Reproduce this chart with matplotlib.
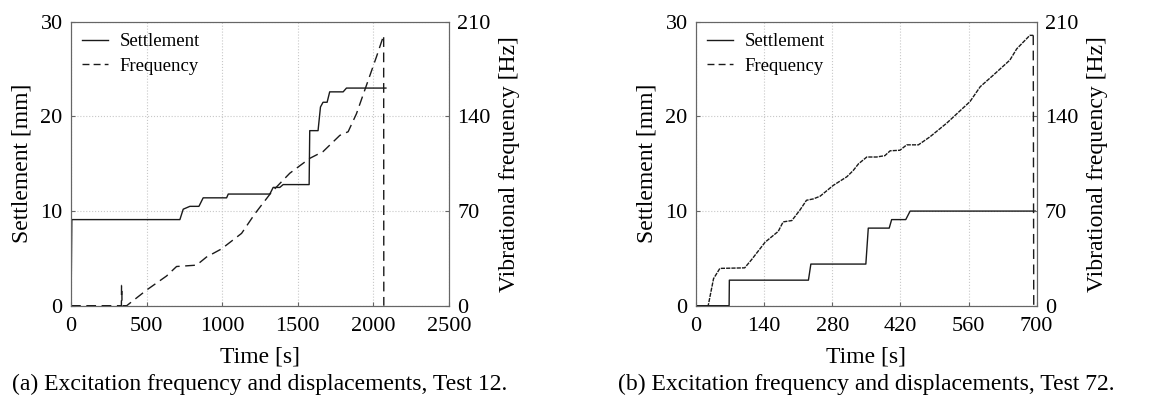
import matplotlib.pyplot as plt
from matplotlib.lines import Line2D

plt.rcParams["font.family"] = ["Liberation Serif", "DejaVu Serif"]
plt.rcParams["font.size"] = 14

# ---- Test 12 (panel a) ----
a_set_t = [0, 5, 720, 742, 786, 846, 874, 1029, 1040, 1315, 1337, 1381, 1403,
           1575, 1579, 1634, 1650, 1667, 1694, 1711, 1800, 1822, 2083]
a_set_mm = [0, 9.1, 9.1, 10.2, 10.5, 10.5, 11.4, 11.4, 11.8, 11.8, 12.5, 12.5, 12.8,
            12.8, 18.5, 18.5, 21.0, 21.5, 21.5, 22.6, 22.6, 23.0, 23.0]
a_freq_t = [0, 333, 334, 336, 337, 368, 500, 632, 698, 830, 896, 995, 1128, 1216,
            1326, 1447, 1579, 1667, 1778, 1833, 1888, 1954, 2020, 2068, 2069]
a_freq_hz = [0, 0, 15, 15, 0, 0, 11.6, 22, 29, 30, 36, 42, 53.5, 68,
             84, 98, 109, 114, 126, 128.7, 142, 163, 184, 200, 0]

# ---- Test 72 (panel b) ----
b_set_t = [0, 68, 68.5, 231, 236, 349, 354, 397, 402, 431, 440, 697]
b_set_mm = [0, 0, 2.7, 2.7, 4.4, 4.4, 8.2, 8.2, 9.1, 9.1, 10.0, 10.0]
b_freq_t = [0, 25, 36, 49, 100, 114, 142, 169, 179, 197, 214, 227, 241, 255, 282,
            310, 323, 334, 351, 371, 388, 399, 419, 433, 457, 481, 515, 536, 563,
            584, 611, 645, 659, 686, 693]
b_freq_hz = [0, 0, 20, 27.6, 28, 34, 47, 55, 62, 63, 71, 78, 79, 81, 89,
             95.4, 100, 105, 110, 110, 111, 114.6, 115, 119, 119, 125, 135, 142, 151,
             162, 170.6, 181.7, 190, 200, 200]
b_drop_t = [693, 694]
b_drop_hz = [200, 0]

panels = [
    dict(st=a_set_t, sy=a_set_mm, ft=a_freq_t, fy=a_freq_hz, dash=(7, 4), drop=None,
         xmax=2500, xticks=[0, 500, 1000, 1500, 2000, 2500],
         caption="(a) Excitation frequency and displacements, Test 12.",
         rect=[0.0612, 0.258, 0.3255, 0.689]),
    dict(st=b_set_t, sy=b_set_mm, ft=b_freq_t, fy=b_freq_hz, dash=(3, 0.8),
         drop=(b_drop_t, b_drop_hz),
         xmax=700, xticks=[0, 140, 280, 420, 560, 700],
         caption="(b) Excitation frequency and displacements, Test 72.",
         rect=[0.5995, 0.258, 0.2934, 0.689]),
]

spine_col = "#666666"
line_col = "#1a1a1a"

fig = plt.figure(figsize=(11.61, 4.12), dpi=100)

for p in panels:
    ax = fig.add_axes(p["rect"])
    ax2 = ax.twinx()
    ax.plot(p["st"], p["sy"], "-", color=line_col, lw=1.0)
    ax2.plot(p["ft"], p["fy"], "--", color=line_col, lw=1.0, dashes=p["dash"])
    if p["drop"] is not None:
        ax2.plot(p["drop"][0], p["drop"][1], "--", color=line_col, lw=1.0,
                 dashes=(7, 4))
    ax.set_xlim(0, p["xmax"])
    ax.set_ylim(0, 30)
    ax2.set_ylim(0, 210)
    ax.set_xticks(p["xticks"])
    ax.set_yticks([0, 10, 20, 30])
    ax2.set_yticks([0, 70, 140, 210])
    ax.grid(True, linestyle=":", color="#c8c8c8", lw=0.8)
    for a in (ax, ax2):
        for s in a.spines.values():
            s.set_color(spine_col)
        a.tick_params(direction="in", length=3, color=spine_col, labelsize=16,
                      pad=6)
    ax.tick_params(axis="x", pad=8)
    ax.set_xlabel("Time [s]", fontsize=17, labelpad=8)
    ax.set_ylabel("Settlement [mm]", fontsize=17, labelpad=6)
    ax2.set_ylabel("Vibrational frequency [Hz]", fontsize=17, labelpad=6)
    handles = [Line2D([], [], color=line_col, lw=1.0),
               Line2D([], [], color=line_col, lw=1.0, ls="--", dashes=(5, 3))]
    ax.legend(handles, ["Settlement", "Frequency"], loc="upper left", frameon=False,
              fontsize=13.5, handlelength=1.35, handletextpad=0.65,
              borderaxespad=0.2, labelspacing=0.4)
    x0, y0, w, h = p["rect"]
    fig.text(x0 + w / 2, 0.068, p["caption"], ha="center", va="center", fontsize=17)

fig.savefig("out.png", dpi=100)
